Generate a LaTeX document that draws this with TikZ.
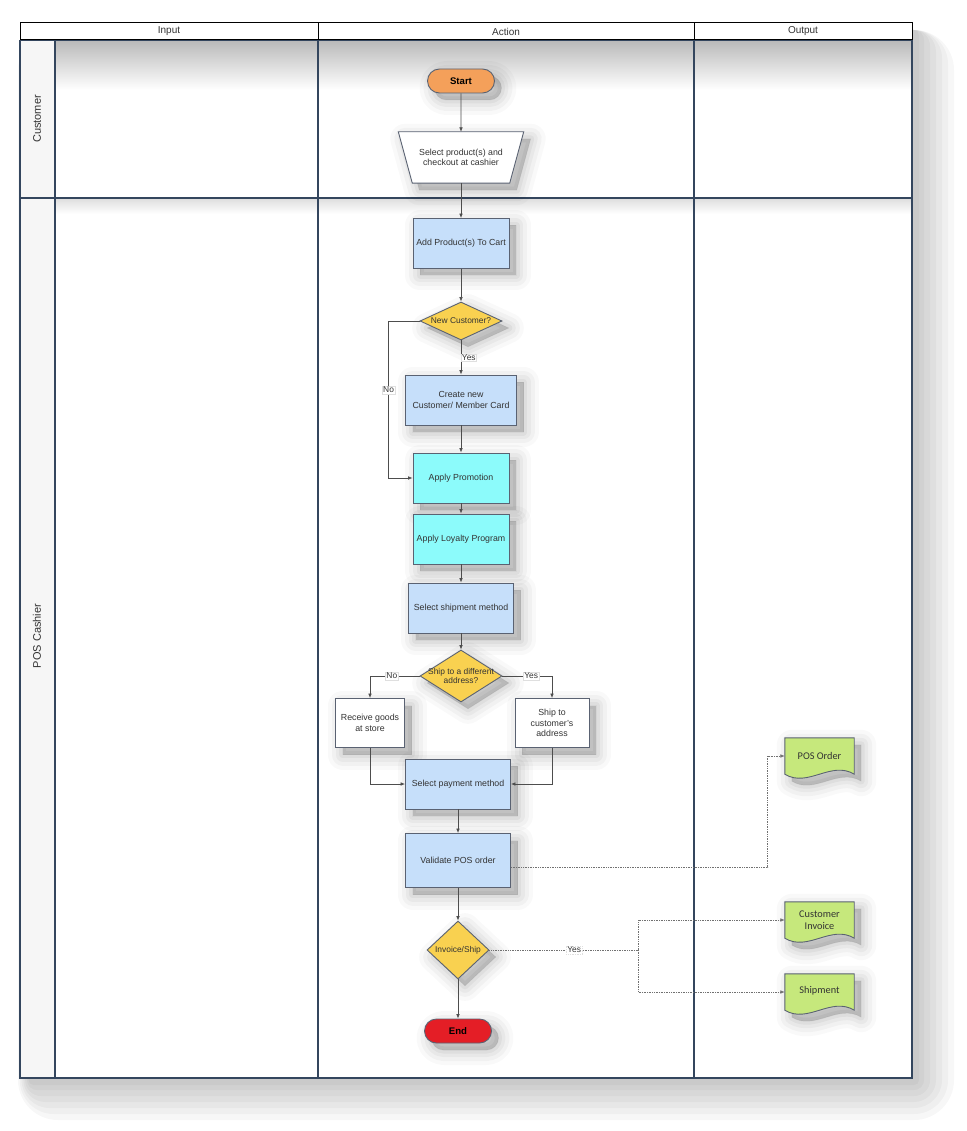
\documentclass[tikz,border=0pt]{standalone}
\usepackage{fontspec}
\setmainfont{Liberation Sans}
\newfontfamily\calib{Carlito}
\usetikzlibrary{shapes.geometric,shapes.misc,arrows.meta,shadows,calc}
\definecolor{lanec}{HTML}{34465E}
\definecolor{bordc}{HTML}{5A6272}
\definecolor{boxblue}{HTML}{C6DFFA}
\definecolor{boxcyan}{HTML}{8CFBFB}
\definecolor{dyellow}{HTML}{F9D150}
\definecolor{startor}{HTML}{F4A05A}
\definecolor{endred}{HTML}{E41E26}
\definecolor{docgreen}{HTML}{C6E87C}
\definecolor{edgec}{HTML}{4D4D4D}
\definecolor{txtc}{HTML}{333333}
\begin{document}
\begin{tikzpicture}[x=1pt,y=-1pt,
  bshadow/.style={
    general shadow={fill=black, draw=black, line width=30pt, line join=round, opacity=0.025, shadow xshift=7pt, shadow yshift=-7pt},
    general shadow={fill=black, draw=black, line width=22pt, line join=round, opacity=0.03, shadow xshift=7pt, shadow yshift=-7pt},
    general shadow={fill=black, draw=black, line width=14pt, line join=round, opacity=0.035, shadow xshift=7pt, shadow yshift=-7pt},
    general shadow={fill=black, draw=black, line width=7pt, line join=round, opacity=0.04, shadow xshift=7pt, shadow yshift=-7pt},
    general shadow={fill=black, draw=black, line width=1pt, line join=round, opacity=0.04, shadow xshift=7pt, shadow yshift=-7pt}},
  boxfont/.style={font=\fontsize{8.8}{10.5}\selectfont},
  proc/.style={rectangle, draw=bordc, line width=0.9pt, fill=boxblue, inner sep=1pt, align=center, text=txtc, boxfont, bshadow},
  procc/.style={proc, fill=boxcyan},
  procw/.style={proc, fill=white},
  term/.style={rounded rectangle, draw=bordc, line width=0.9pt, minimum width=69pt, minimum height=24pt, inner sep=1pt, bshadow, font=\bfseries\fontsize{9.6}{11}\selectfont},
  dec/.style={diamond, draw=bordc, line width=0.9pt, fill=dyellow, inner sep=0pt, bshadow},
  dtext/.style={align=center, text=txtc, inner sep=0pt, font=\fontsize{8.4}{9.6}\selectfont},
  arr/.style={draw=edgec, line width=0.7pt, -{Latex[length=4.5pt,width=3.6pt]}},
  dotl/.style={draw=edgec!80, line width=0.7pt, densely dotted},
  dotarr/.style={dotl, -{Latex[length=4.5pt,width=3.6pt]}},
  lbl/.style={fill=white, draw=gray!25, line width=0.3pt, inner sep=0.8pt, text=txtc, font=\fontsize{8.4}{9}\selectfont},
  docbox/.style={rectangle, draw=none, minimum width=69pt, minimum height=36pt, inner sep=0pt},
  docshape/.style={draw=bordc, line width=0.9pt, fill=docgreen, bshadow},
  doctext/.style={align=center, text=txtc, inner sep=0pt, font=\calib\fontsize{10.3}{12.5}\selectfont},
  lanel/.style={draw=lanec, line width=1.6pt},
  hdr/.style={text=txtc, font=\fontsize{10}{11}\selectfont},
  lanetxt/.style={rotate=90, text=txtc, font=\fontsize{11}{12}\selectfont}
]
\useasboundingbox (0,0) rectangle (966,1131);
\fill[white] (0,0) rectangle (966,1131);
% frame shadow
\foreach \e in {40,34,28,22,16,10,5} {
  \fill[black, opacity=0.03, rounded corners=\e pt] (30-0.3*\e,30) rectangle (914+\e,1080+\e);
}
\fill[white] (20,23) rectangle (912,1078);
\fill[gray!7] (20,40) rectangle (55,1078);
\shade[top color=gray!55, bottom color=white] (55,40) rectangle (912,90);
\shade[top color=gray!25, bottom color=white] (55,199) rectangle (912,214);
% lane lines
\draw[lanel] (20,40) -- (912,40);
\draw[lanel] (20,198) -- (912,198);
\draw[lanel] (20,40) -- (20,1078) -- (912,1078) -- (912,40);
\draw[lanel] (55,40) -- (55,1078);
\draw[lanel] (318,40) -- (318,1078);
\draw[lanel] (694,40) -- (694,1078);
% header
\draw[black, line width=1pt, fill=white] (20,23) rectangle (912,40);
\draw[black, line width=1pt] (318,23) -- (318,40);
\draw[black, line width=1pt] (694,23) -- (694,40);
\node[hdr] (hin) at (169,31.5) {Input};
\node[hdr] (hact) at (506,31.5) {Action};
\node[hdr] (hout) at (803,31.5) {Output};
\node[lanetxt] (lcust) at (37,119) {Customer};
\node[lanetxt] (lpos) at (37,636) {POS Cashier};

% nodes
\node[term, fill=startor] (start) at (461,81) {Start};
\node[rectangle, draw=none, minimum width=125pt, minimum height=51pt, inner sep=0pt] (sel) at (461,157.5) {};
\path[draw=bordc, line width=0.9pt, fill=white, bshadow] (sel.north west) -- (sel.north east) -- ([xshift=-14pt]sel.south east) -- ([xshift=14pt]sel.south west) -- cycle;
\node[align=center, text=txtc, boxfont, inner sep=0pt] (selt) at (sel.center) {Select product(s) and\\checkout at cashier};
\node[proc, minimum width=96pt, minimum height=50pt] (add) at (461,243.5) {Add Product(s) To Cart};
\node[dec, minimum width=82pt, minimum height=38pt] (newc) at (461,321) {};
\node[dtext] (newct) at (461,321) {New Customer?};
\node[proc, minimum width=111pt, minimum height=50pt] (create) at (461,400) {Create new\\Customer/ Member Card};
\node[procc, minimum width=96pt, minimum height=50pt] (promo) at (461,478) {Apply Promotion};
\node[procc, minimum width=96pt, minimum height=50pt] (loyal) at (461,539) {Apply Loyalty Program};
\node[proc, minimum width=105pt, minimum height=50pt] (shipm) at (461,608) {Select shipment method};
\node[dec, minimum width=82pt, minimum height=52pt] (shipd) at (461,676) {};
\node[dtext] (shipdt) at (461,676) {Ship to a different\\address?};
\node[procw, minimum width=69pt, minimum height=49pt] (recv) at (370,723) {Receive goods\\at store};
\node[procw, minimum width=74pt, minimum height=49pt] (shipto) at (552,723) {Ship to\\customer's\\address};
\node[proc, minimum width=105pt, minimum height=50pt] (pay) at (458,784) {Select payment method};
\node[proc, minimum width=105pt, minimum height=54pt] (val) at (458,860.5) {Validate POS order};
\node[dec, minimum width=62pt, minimum height=58pt] (inv) at (458,950) {};
\node[dtext] (invt) at (458,950) {Invoice/Ship};
\node[term, fill=endred] (end) at (458,1031) {End};

% documents
\node[docbox] (posd) at (819.5,756) {};
\path[docshape] (posd.north west) -- (posd.north east) -- (posd.south east) .. controls +(-23,-14) and +(23,14) .. (posd.south west) -- cycle;
\node[doctext] (posdt) at (posd.center) {POS Order};
\node[docbox] (cinv) at (819.5,920) {};
\path[docshape] (cinv.north west) -- (cinv.north east) -- (cinv.south east) .. controls +(-23,-14) and +(23,14) .. (cinv.south west) -- cycle;
\node[doctext] (cinvt) at (cinv.center) {Customer\\Invoice};
\node[docbox] (shpd) at (819.5,992) {};
\path[docshape] (shpd.north west) -- (shpd.north east) -- (shpd.south east) .. controls +(-23,-14) and +(23,14) .. (shpd.south west) -- cycle;
\node[doctext] (shpdt) at ([yshift=1pt]shpd.center) {Shipment};

% connectors
\draw[arr] (start) -- (sel);
\draw[arr] (sel) -- (add);
\draw[arr] (add) -- (newc);
\draw[arr] (newc) -- node[lbl, anchor=west, xshift=0pt]{Yes} (create);
\draw[arr] (newc.west) -- ++(-31,0) |- node[lbl, pos=0.22]{No} (promo.west);
\draw[arr] (create) -- (promo);
\draw[arr] (promo) -- (loyal);
\draw[arr] (loyal) -- (shipm);
\draw[arr] (shipm) -- (shipd);
\draw[arr] (shipd.west) -| node[lbl, pos=0.28]{No} (recv.north);
\draw[arr] (shipd.east) -| node[lbl, pos=0.29]{Yes} (shipto.north);
\draw[arr] (recv.south) |- (pay.west);
\draw[arr] (shipto.south) |- (pay.east);
\draw[arr] (pay) -- (val);
\draw[arr] (val) -- (inv);
\draw[arr] (inv) -- (end);
\draw[dotarr] ([yshift=-6.5pt]val.east) -| ([xshift=-17pt]posd.west) -- (posd.west);
\coordinate (br) at (638,950);
\draw[dotl] (inv.east) -- node[lbl, pos=0.57]{Yes} (br);
\draw[dotarr] (br) |- (cinv.west);
\draw[dotarr] (br) |- (shpd.west);
\end{tikzpicture}
\end{document}
